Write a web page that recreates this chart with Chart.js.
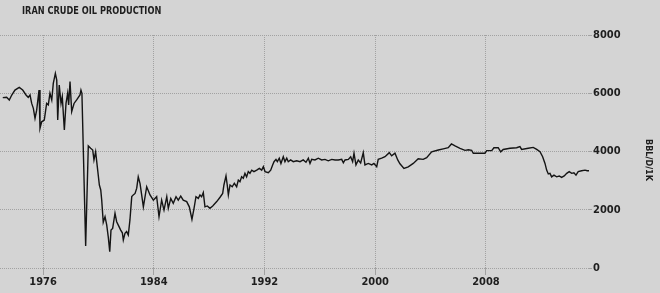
<!DOCTYPE html>
<html>
<head>
<meta charset="utf-8">
<script src="https://cdn.jsdelivr.net/npm/chart.js@4.4.1/dist/chart.umd.min.js"></script>
<style>
html,body{margin:0;padding:0;background:#d4d4d4;}
#wrap{width:660px;height:293px;}
</style>
</head>
<body>
<div id="wrap"><canvas id="c" width="660" height="293"></canvas></div>
<script>
const chartTitle = "IRAN CRUDE OIL PRODUCTION";
const unitLabel = "BBL/D/1K";
const yTicks = [0, 2000, 4000, 6000, 8000];
const xTicks = [1976, 1984, 1992, 2000, 2008];

const years = [
1973.09,1973.37,1973.56,1973.74,1973.97,1974.28,1974.53,1974.77,1974.93,1975.06,
1975.18,1975.30,1975.42,1975.54,1975.71,1975.78,1975.90,1976.09,1976.26,1976.38,
1976.50,1976.63,1976.74,1976.89,1976.99,1977.06,1977.17,1977.30,1977.39,1977.54,
1977.66,1977.78,1977.85,1977.95,1978.07,1978.24,1978.43,1978.67,1978.74,1978.81,
1979.08,1979.27,1979.44,1979.59,1979.68,1979.80,1979.92,1980.07,1980.17,1980.24,
1980.35,1980.48,1980.60,1980.71,1980.82,1980.91,1981.03,1981.20,1981.32,1981.49,
1981.61,1981.73,1981.80,1981.92,1982.04,1982.16,1982.28,1982.41,1982.52,1982.65,
1982.77,1982.88,1983.01,1983.25,1983.49,1983.73,1983.97,1984.21,1984.38,1984.57,
1984.74,1984.94,1985.05,1985.23,1985.41,1985.61,1985.77,1985.95,1986.13,1986.38,
1986.57,1986.76,1986.91,1987.05,1987.22,1987.34,1987.46,1987.58,1987.70,1987.87,
1988.06,1988.26,1988.55,1988.79,1988.98,1989.07,1989.22,1989.31,1989.39,1989.51,
1989.67,1989.82,1989.99,1990.11,1990.23,1990.35,1990.47,1990.59,1990.71,1990.83,
1990.95,1991.08,1991.24,1991.44,1991.63,1991.80,1991.92,1992.04,1992.28,1992.45,
1992.59,1992.69,1992.83,1992.93,1993.07,1993.19,1993.36,1993.48,1993.61,1993.72,
1993.89,1994.08,1994.33,1994.57,1994.80,1995.00,1995.17,1995.29,1995.41,1995.65,
1995.89,1996.13,1996.37,1996.61,1996.86,1997.10,1997.33,1997.58,1997.70,1997.82,
1998.06,1998.23,1998.37,1998.47,1998.61,1998.78,1998.95,1999.14,1999.26,1999.50,
1999.75,1999.91,2000.11,2000.22,2000.47,2000.71,2001.02,2001.19,2001.43,2001.63,
2001.79,2002.08,2002.39,2002.75,2003.11,2003.47,2003.72,2004.08,2004.56,2004.92,
2005.28,2005.51,2005.77,2006.13,2006.49,2006.73,2006.97,2007.09,2007.93,2008.06,
2008.42,2008.58,2008.89,2009.07,2009.25,2009.74,2010.22,2010.46,2010.58,2011.06,
2011.42,2011.67,2011.91,2012.10,2012.27,2012.39,2012.51,2012.63,2012.75,2012.92,
2013.11,2013.30,2013.47,2013.66,2013.84,2014.02,2014.20,2014.36,2014.51,2014.67,
2014.92,2015.16,2015.32,2015.45
];
const production = [
5850,5860,5770,5940,6110,6200,6110,5940,5860,5940,
5650,5480,5140,5420,6110,4800,5020,5080,5650,5600,
6000,5770,6340,6680,6450,5080,6280,5650,5880,4740,
5650,6000,5600,6400,5370,5650,5770,5940,6110,6000,
760,4190,4110,4050,3710,3990,3480,2850,2680,2330,
1570,1760,1480,1080,560,1300,1360,1880,1590,1420,
1300,1210,960,1190,1250,1130,1650,2450,2510,2560,
2740,3130,2900,2100,2790,2510,2330,2450,1760,2330,
1990,2450,2050,2390,2220,2450,2330,2470,2330,2280,
2100,1670,2050,2450,2390,2510,2450,2590,2100,2130,
2050,2130,2280,2430,2560,2850,3160,2850,2510,2850,
2790,2910,2790,3020,2960,3130,3080,3250,3130,3310,
3250,3360,3310,3360,3420,3360,3480,3310,3270,3360,
3540,3650,3730,3650,3770,3590,3820,3650,3770,3650,
3710,3650,3680,3650,3710,3630,3770,3590,3730,3710,
3770,3710,3730,3680,3730,3710,3710,3730,3610,3710,
3730,3820,3650,3940,3540,3710,3610,3960,3540,3590,
3540,3590,3480,3730,3770,3820,3960,3850,3940,3710,
3580,3420,3470,3590,3750,3730,3790,3990,4050,4090,
4130,4260,4190,4110,4040,4060,4040,3940,3940,4030,
4030,4130,4130,3990,4070,4110,4130,4170,4070,4110,
4140,4070,3990,3820,3590,3360,3230,3250,3130,3190,
3130,3160,3110,3160,3250,3310,3250,3270,3190,3310,
3340,3360,3340,3340
];

const points = years.map((yr, i) => ({x: yr, y: production[i]}));
const fam = "'Liberation Sans Narrow','DejaVu Sans Condensed',sans-serif";
const tickFont = {family: fam, size: 11, weight: 'bold'};
const gridColor = '#a2a2a2';

const textPlugin = {
  id: 'texts',
  beforeDraw(chart) {
    const ctx = chart.ctx;
    ctx.save();
    ctx.fillStyle = '#d4d4d4';
    ctx.fillRect(0, 0, chart.width, chart.height);
    ctx.restore();
  },
  afterDraw(chart) {
    const ctx = chart.ctx;
    ctx.save();
    ctx.fillStyle = '#1e1e1e';
    ctx.font = "bold 11px " + fam;
    ctx.textBaseline = 'middle';
    ctx.textAlign = 'left';
    ctx.save();
    ctx.scale(0.83, 1);
    ctx.fillText(chartTitle, 22 / 0.83, 11);
    ctx.restore();
    ctx.translate(648, 160);
    ctx.rotate(Math.PI / 2);
    ctx.textAlign = 'center';
    ctx.font = "bold 9px " + fam;
    ctx.fillText(unitLabel, 0, 0);
    ctx.restore();
  }
};

new Chart(document.getElementById('c'), {
  type: 'line',
  data: {datasets: [{data: points, borderColor: '#141414', borderWidth: 1.4, pointRadius: 0, tension: 0, fill: false}]},
  options: {
    responsive: false,
    animation: false,
    events: [],
    layout: {padding: {top: 35, left: 0, right: 0, bottom: 0}},
    plugins: {legend: {display: false}, tooltip: {enabled: false}, title: {display: false}},
    scales: {
      x: {
        type: 'linear',
        position: 'bottom',
        min: 1972.89,
        max: 2015.45,
        afterFit(s) { s.height = 25; },
        afterBuildTicks(s) { s.ticks = xTicks.map(v => ({value: v})); },
        ticks: {font: tickFont, color: '#1e1e1e', padding: 1, maxRotation: 0, callback: v => String(v)},
        grid: {color: gridColor, tickLength: 7, tickColor: gridColor, lineWidth: 1, drawTicks: true},
        border: {display: false, dash: [1, 1]}
      },
      y: {
        position: 'right',
        min: 0,
        max: 8000,
        afterFit(s) { s.width = 71; },
        afterBuildTicks(s) { s.ticks = yTicks.map(v => ({value: v})); },
        ticks: {font: tickFont, color: '#1e1e1e', padding: 1, callback: v => String(v)},
        grid: {color: gridColor, tickLength: 3, tickColor: gridColor, lineWidth: 1},
        border: {display: false, dash: [1, 1]}
      }
    }
  },
  plugins: [textPlugin]
});
</script>
</body>
</html>
